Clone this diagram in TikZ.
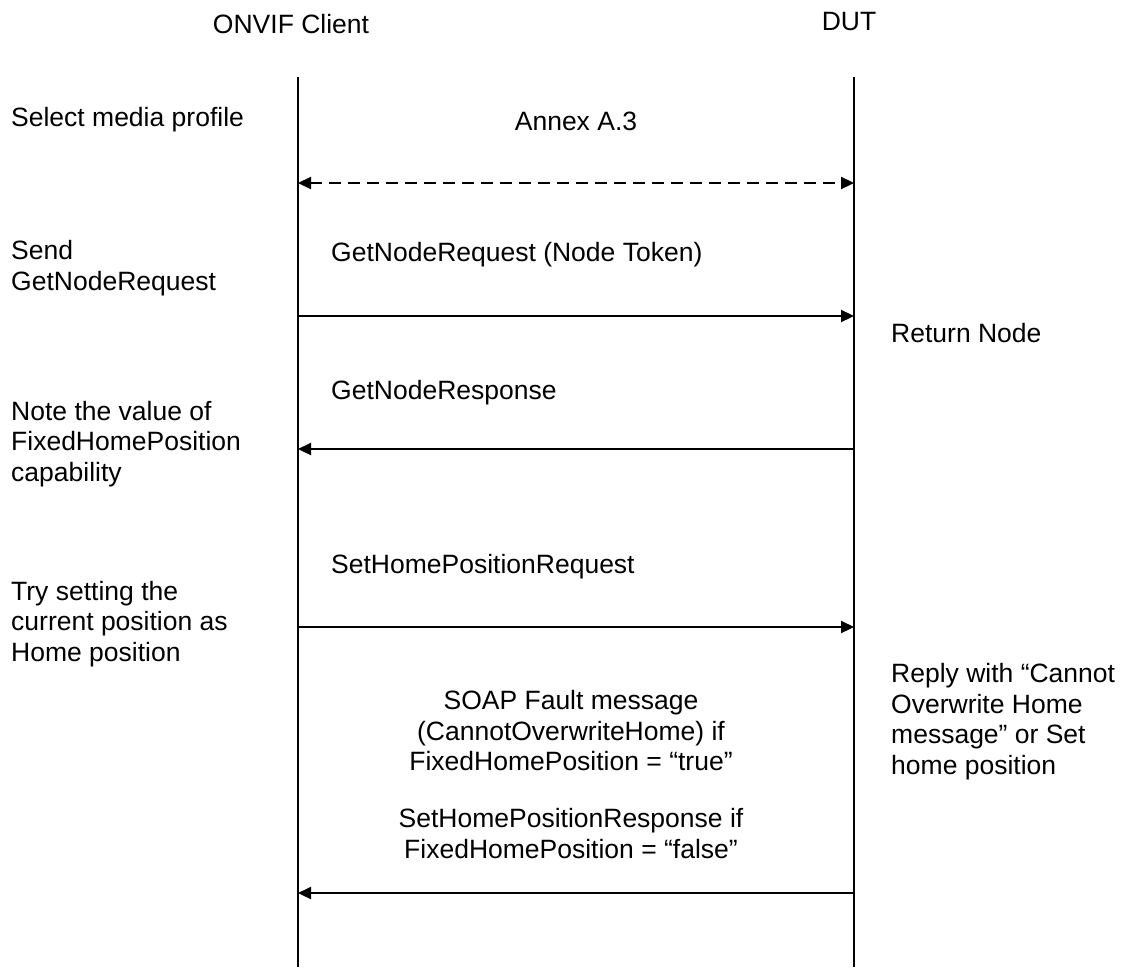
\documentclass[tikz,border=0pt]{standalone}
\usepackage{fontspec}
\setmainfont{Liberation Sans}
\usetikzlibrary{arrows.meta}
\begin{document}
\begin{tikzpicture}[x=1pt,y=-1pt,
  txt/.style={inner sep=0pt,font=\fontsize{26.5}{30.5}\selectfont},
  lefttxt/.style={txt,anchor=west,align=left},
  ctrtxt/.style={txt,anchor=center,align=center},
  lifeline/.style={line width=1.6pt},
  msg/.style={line width=2.2pt,-{Triangle[length=13pt,width=12pt]}},
  dmsg/.style={line width=2.2pt,{Triangle[length=13pt,width=12pt]}-{Triangle[length=13pt,width=12pt]},dash pattern=on 12pt off 7pt}]
\useasboundingbox (0,0) rectangle (1121,967);
\fill[white] (0,0) rectangle (1121,967);
% headers
\node[ctrtxt] (client) at (291,24) {ONVIF Client};
\node[ctrtxt] (dut) at (849,22) {DUT};
% lifelines
\coordinate (ctop) at (298,77);
\coordinate (cbot) at (298,967);
\coordinate (dtop) at (854,77);
\coordinate (dbot) at (854,967);
\draw[lifeline] (ctop) -- (cbot);
\draw[lifeline] (dtop) -- (dbot);
% left labels
\node[lefttxt] (l1) at (11,120) {Select media profile};
\node[lefttxt] (l2) at (11,268) {Send\\GetNodeRequest};
\node[lefttxt] (l3) at (11,444) {Note the value of\\FixedHomePosition\\capability};
\node[lefttxt] (l4) at (11,624) {Try setting the\\current position as\\Home position};
% right labels
\node[lefttxt] (r1) at (891,333) {Return Node};
\node[lefttxt] (r2) at (891,721.5) {Reply with “Cannot\\Overwrite Home\\message” or Set\\home position};
% message labels
\node[ctrtxt] (annex) at (576,121) {Annex A.3};
\node[lefttxt] (m1) at (331,255) {GetNodeRequest (Node Token)};
\node[lefttxt] (m2) at (331,393) {GetNodeResponse};
\node[lefttxt] (m3) at (331,567) {SetHomePositionRequest};
\node[ctrtxt] (m4a) at (571,731) {SOAP Fault message\\(CannotOverwriteHome) if\\FixedHomePosition = “true”};
\node[ctrtxt] (m4b) at (571,833.5) {SetHomePositionResponse if\\FixedHomePosition = “false”};
% message coordinates
\coordinate (c0) at (298,183); \coordinate (d0) at (854,183);
\coordinate (c1) at (298,316); \coordinate (d1) at (854,316);
\coordinate (c2) at (298,449); \coordinate (d2) at (854,449);
\coordinate (c3) at (298,627); \coordinate (d3) at (854,627);
\coordinate (c4) at (298,893); \coordinate (d4) at (854,893);
\draw[dmsg] (c0) -- (d0);
\draw[msg] (c1) -- (d1);
\draw[msg] (d2) -- (c2);
\draw[msg] (c3) -- (d3);
\draw[msg] (d4) -- (c4);
\end{tikzpicture}
\end{document}
